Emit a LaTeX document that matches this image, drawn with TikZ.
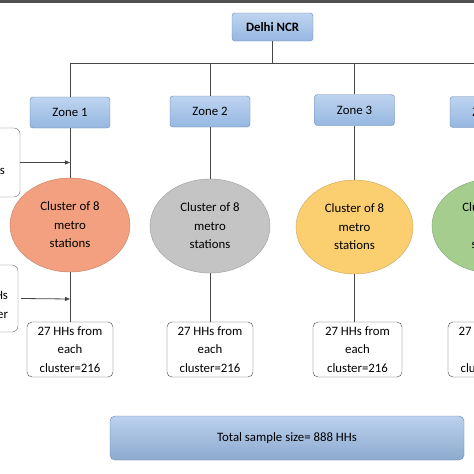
\documentclass[tikz,border=0pt]{standalone}
\usepackage{fontspec}
\setmainfont{Carlito}
\usetikzlibrary{arrows.meta,shapes.geometric}
\definecolor{zoneTop}{RGB}{190,212,240}
\definecolor{zoneBot}{RGB}{150,183,225}
\definecolor{zoneLine}{RGB}{105,135,175}
\definecolor{clusterA}{RGB}{242,160,128}
\definecolor{clusterB}{RGB}{196,196,196}
\definecolor{clusterC}{RGB}{251,206,112}
\definecolor{clusterD}{RGB}{165,206,142}
\definecolor{arrowColor}{RGB}{70,70,70}
\definecolor{barColor}{RGB}{80,80,80}
\newcommand{\diagfont}{\fontsize{12.8}{18.5}\selectfont}

\begin{document}
\begin{tikzpicture}[x=1pt, y=-1pt,
        zone/.style={draw=zoneLine, rounded corners=3pt, top color=zoneTop, bottom color=zoneBot, minimum width=80pt, minimum height=31pt, align=center, font=\diagfont},
        cluster/.style={ellipse, draw=#1!80!black, fill=#1, minimum width=120pt, minimum height=94pt, inner sep=0pt, align=center, font=\diagfont},
        hhbox/.style={draw=arrowColor, rounded corners=5pt, fill=white, minimum width=86pt, minimum height=55pt, inner sep=1pt, align=center, font=\diagfont},
        sidebox/.style={draw=arrowColor!80, rounded corners=6pt, fill=white, text width=40pt, align=right, font=\diagfont},
        link/.style={arrowColor, line width=0.8pt},
        arr/.style={-{Triangle[length=5pt, width=4pt]}, arrowColor, line width=0.8pt}
      ]
      \useasboundingbox (0,0) rectangle (474,474);
      \clip (0,0) rectangle (474,474);
      \fill[white] (0,0) rectangle (474,474);
      \fill[barColor] (0,0) rectangle (474,2.5);

      % top level
      \node[zone, font=\diagfont\bfseries, minimum width=81pt, minimum height=28pt] (ncr) at (272.5,27) {Delhi NCR};
      \coordinate (bus) at (272.5,63);

      % zones
      \node[zone] (z1) at (70,112.5) {Zone 1};
      \node[zone] (z2) at (210,111.5) {Zone 2};
      \node[zone] (z3) at (354.5,110) {Zone 3};
      \node[zone] (z4) at (490,112) {Zone 4};

      % clusters
      \node[cluster=clusterA] (c1) at (70,225) {Cluster of 8\\metro\\stations};
      \node[cluster=clusterB] (c2) at (210,226) {Cluster of 8\\metro\\stations};
      \node[cluster=clusterC, minimum width=117pt] (c3) at (354.5,227) {Cluster of 8\\metro\\stations};
      \node[cluster=clusterD] (c4) at (492,226) {Cluster of 8\\metro\\stations};

      % households
      \node[hhbox] (h1) at (70,349.5) {27 HHs from\\each\\cluster=216};
      \node[hhbox] (h2) at (210,349.5) {27 HHs from\\each\\cluster=216};
      \node[hhbox, minimum width=89pt] (h3) at (357.5,349.5) {27 HHs from\\each\\cluster=216};
      \node[hhbox] (h4) at (491,349.5) {27 HHs from\\each\\cluster=216};

      % sampling notes on the left
      \node[sidebox, minimum height=69pt, inner xsep=15pt] (sa) at (-15,162.5) {\raisebox{-12pt}[0pt][0pt]{s}};
      \node[sidebox, minimum height=67pt, inner xsep=10pt] (sb) at (-12,298.5) {\raisebox{-10pt}[0pt][0pt]{\begin{tabular}{@{}r@{}}Hs\\ster\end{tabular}}};

      % total
      \node[zone, minimum width=354pt, minimum height=44pt, rounded corners=5pt, top color=zoneTop!90!zoneBot, bottom color=zoneBot!90!black!95] (total) at (287,438) {Total sample size= 888 HHs};

      \draw[link] (ncr) -- (bus);
      \draw[link] (z1.north) -- (z1.north |- bus) -- (z4.north |- bus) -- (z4.north);
      \draw[link] (z2.north) -- (z2.north |- bus);
      \draw[link] (z3.north) -- (z3.north |- bus);

      \draw[link] (z1) -- (c1);
      \draw[link] (z2) -- (c2);
      \draw[link] (z3) -- (c3);
      \draw[link] (z4) -- (c4);
      \draw[link] (c1) -- (h1);
      \draw[link] (c2) -- (h2);
      \draw[link] (c3.south) -- (c3.south |- h3.north);
      \draw[link] (c4) -- (h4);

      \draw[arr] (sa.east) -- (sa.east -| z1);
      \draw[arr] ([xshift=3pt]sb.east) -- ([yshift=-0.5pt]sb.east -| z1);
    \end{tikzpicture}
\end{document}
